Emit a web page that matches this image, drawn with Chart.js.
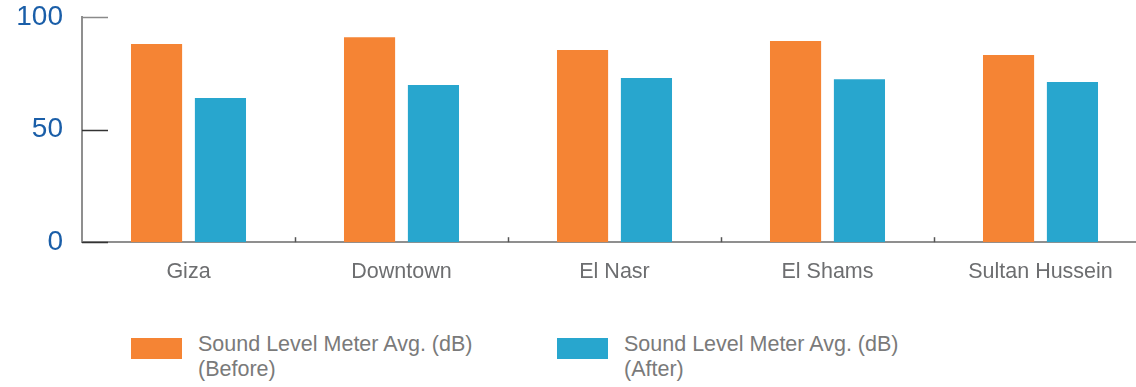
<!DOCTYPE html>
<html>
<head>
<meta charset="utf-8">
<script src="https://cdn.jsdelivr.net/npm/chart.js@4/dist/chart.umd.min.js"></script>
<style>
  html, body { margin: 0; padding: 0; background: #fff; overflow: hidden; width: 1136px; height: 387px; }
  #wrap { position: relative; width: 1136px; height: 387px; overflow: hidden; }
  #noise { position: absolute; left: 0; top: 0; }
  .legend { position: absolute; top: 332px; left: 0; font-family: "Liberation Sans", Arial, Helvetica, sans-serif; font-size: 21.5px; color: #7a7a7a; line-height: 25px; }
  .item { position: absolute; top: 0; white-space: nowrap; }
  .box { position: absolute; left: 0; top: 6px; width: 51px; height: 21px; }
  .txt { position: absolute; left: 67px; top: 0; }
</style>
</head>
<body>
<div id="wrap">
  <canvas id="noise" width="1150" height="302"></canvas>
  <div class="legend" id="legend"></div>
</div>
<script>
const categories = ['Giza', 'Downtown', 'El Nasr', 'El Shams', 'Sultan Hussein'];
const beforeValues = [88, 91, 85.3, 89.3, 83.1];
const afterValues = [64, 69.8, 72.9, 72.4, 71.1];
const seriesNames = [
    ['Sound Level Meter Avg. (dB)', '(Before)'],
    ['Sound Level Meter Avg. (dB)', '(After)']
];
const seriesColours = ['#f58434', '#28a6ce'];
const yTicks = [0, 50, 100];

const fontFamily = '"Liberation Sans", Arial, Helvetica, sans-serif';

// short tick marks that point into the plot, as in the original
const innerTicks = {
    id: 'innerTicks',
    afterDraw(chart) {
        const c = chart.ctx;
        const area = chart.chartArea;
        const y = chart.scales.y;
        const x = chart.scales.x;
        c.save();
        c.lineWidth = 1.5;
        y.ticks.forEach((t, i) => {
            const py = Math.round(y.getPixelForTick(i)) + 0.5;
            c.strokeStyle = t.value === 100 ? '#8a8a8a' : '#333';
            c.beginPath();
            c.moveTo(area.left, py);
            c.lineTo(area.left + 26, py);
            c.stroke();
        });
        c.strokeStyle = '#555';
        c.lineWidth = 1.5;
        for (let i = 1; i < categories.length; i++) {
            const px = Math.round((x.getPixelForValue(i - 1) + x.getPixelForValue(i)) / 2) + 0.5;
            c.beginPath();
            c.moveTo(px, area.bottom - 5);
            c.lineTo(px, area.bottom);
            c.stroke();
        }
        c.restore();
    }
};

const chart = new Chart(document.getElementById('noise'), {
    type: 'bar',
    data: {
        labels: categories,
        datasets: [
            { label: seriesNames[0].join(' '), data: beforeValues, backgroundColor: seriesColours[0] },
            { label: seriesNames[1].join(' '), data: afterValues, backgroundColor: seriesColours[1] }
        ]
    },
    options: {
        responsive: false,
        animation: false,
        layout: { padding: { top: 17, right: 3, left: 0, bottom: 0 } },
        datasets: { bar: { categoryPercentage: 0.6, barPercentage: 0.8 } },
        plugins: { legend: { display: false }, tooltip: { enabled: false } },
        scales: {
            x: {
                grid: { display: false, drawTicks: false, tickLength: 0 },
                border: { display: true, color: '#8f8f8f', width: 2 },
                ticks: { color: '#6d6e70', padding: 17, font: { family: fontFamily, size: 21.5 } }
            },
            y: {
                min: yTicks[0],
                max: yTicks[yTicks.length - 1],
                afterFit(scale) {
                    scale.width = 82;
                    scale.paddingTop = 0;
                    scale.paddingBottom = 0;
                },
                afterBuildTicks(scale) { scale.ticks = yTicks.map(v => ({ value: v })); },
                grid: { display: false, drawTicks: false, tickLength: 0 },
                border: { display: true, color: '#8f8f8f', width: 2 },
                ticks: { color: '#1a5ea8', padding: 19, font: { family: fontFamily, size: 28 } }
            }
        }
    },
    plugins: [innerTicks]
});

// two-line legend below the plot
const legendEl = document.getElementById('legend');
const legendLeft = [131, 557];
seriesNames.forEach((lines, i) => {
    const item = document.createElement('div');
    item.className = 'item';
    item.style.left = legendLeft[i] + 'px';
    const box = document.createElement('div');
    box.className = 'box';
    box.style.background = seriesColours[i];
    const txt = document.createElement('div');
    txt.className = 'txt';
    txt.innerHTML = lines.join('<br>');
    item.appendChild(box);
    item.appendChild(txt);
    legendEl.appendChild(item);
});
</script>
</body>
</html>
